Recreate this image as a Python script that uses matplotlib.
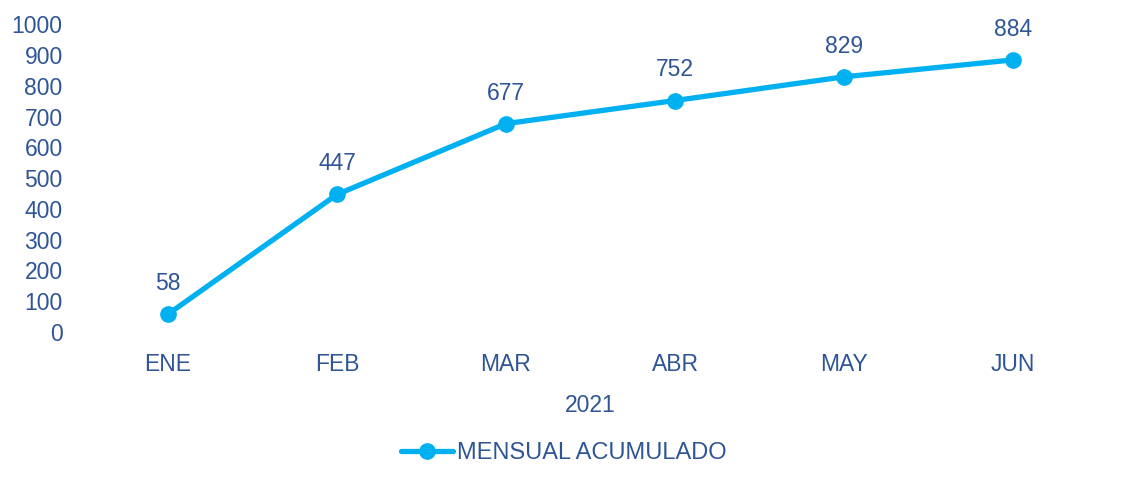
import matplotlib.pyplot as plt

plt.rcParams['font.family'] = ['Liberation Sans', 'DejaVu Sans']

months = ["ENE", "FEB", "MAR", "ABR", "MAY", "JUN"]
acumulado = [58, 447, 677, 752, 829, 884]
yticks = [0, 100, 200, 300, 400, 500, 600, 700, 800, 900, 1000]

line_color = "#00B0F0"
text_color = "#2F5597"

fig = plt.figure(figsize=(11.21, 4.84), dpi=100)
ax = fig.add_axes([0.0745, 0.314, 0.9045, 0.636])

x = list(range(len(months)))
ax.plot(x, acumulado, color=line_color, lw=3.8, marker="o", markersize=11,
        label="MENSUAL ACUMULADO", solid_capstyle="round")

for xi, v in zip(x, acumulado):
    ax.annotate(str(v), (xi, v), xytext=(0, 22), textcoords="offset points",
                ha="center", va="center", fontsize=16.5, color=text_color)

ax.set_xlim(-0.5, len(months) - 0.5)
ax.set_ylim(0, 1000)
ax.set_yticks(yticks)
ax.set_xticks(x)
ax.set_xticklabels(months)
ax.tick_params(axis="both", length=0, labelsize=16.5, labelcolor=text_color)
ax.tick_params(axis="y", pad=15)
ax.tick_params(axis="x", pad=15)
for s in ax.spines.values():
    s.set_visible(False)

ax.set_xlabel("2021", fontsize=16.5, color=text_color, labelpad=13)

fig.legend(loc="center", bbox_to_anchor=(0.503, 0.064), frameon=False,
           fontsize=17, labelcolor=text_color, handlelength=2.2,
           handletextpad=0.2)

fig.savefig("out.png", dpi=100)
